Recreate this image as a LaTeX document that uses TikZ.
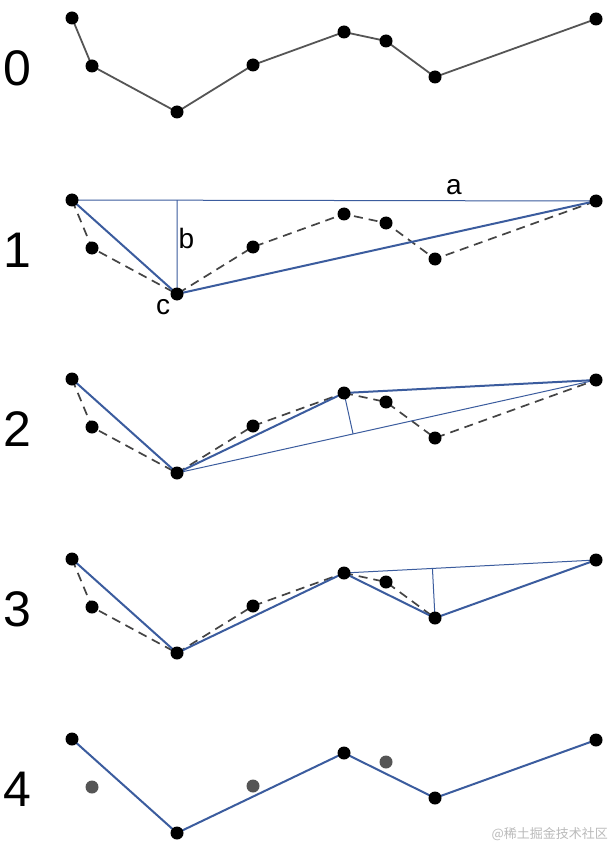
\documentclass[tikz,border=0pt]{standalone}
\usepackage{fontspec}
\setmainfont{Liberation Sans}
\newfontfamily\cjk{Noto Sans CJK SC}
\usetikzlibrary{calc}
\definecolor{lineblue}{HTML}{3B5C9E}
\definecolor{polygray}{HTML}{555555}
\definecolor{dashgray}{HTML}{444444}
\definecolor{markgray}{HTML}{BBBBBB}
\begin{document}
\begin{tikzpicture}[x=1pt,y=-1pt,
  dot/.style={circle,fill=black,inner sep=0pt,minimum size=13pt},
  fadedot/.style={circle,fill=polygray,inner sep=0pt,minimum size=13pt},
  poly/.style={draw=polygray,line width=1.8pt},
  dashpoly/.style={draw=dashgray,line width=1.7pt,dash pattern=on 9pt off 6pt},
  thickblue/.style={draw=lineblue,line width=2pt},
  thinblue/.style={draw=lineblue,line width=1pt},
  numlabel/.style={font=\fontsize{50}{50}\selectfont,inner sep=0pt},
  letlabel/.style={font=\fontsize{28}{28}\selectfont,inner sep=0pt}]
\useasboundingbox (0,0) rectangle (611,850);
\fill[white] (0,0) rectangle (611,850);
% coordinates of the polyline in every panel
\foreach \p/\b in {0/18,1/200,2/379,3/559,4/739}{
  \foreach \i/\x/\y in {1/72/0,2/92/48,3/177/94,4/253/47,5/344/14,6/386/23,7/435/59,8/596/1}{
    \coordinate (n\p-\i) at (\x,\b+\y);
  }
}
% panel labels
\node[numlabel] (l0) at (17,68) {0};
\node[numlabel] (l1) at (17,250) {1};
\node[numlabel] (l2) at (17,429) {2};
\node[numlabel] (l3) at (17,609) {3};
\node[numlabel] (l4) at (17,789) {4};
% panel 0
\draw[poly] (n0-1) -- (n0-2) -- (n0-3) -- (n0-4) -- (n0-5) -- (n0-6) -- (n0-7) -- (n0-8);
% panel 1
\draw[dashpoly] (n1-1) -- (n1-2) -- (n1-3) -- (n1-4) -- (n1-5) -- (n1-6) -- (n1-7) -- (n1-8);
\draw[thinblue] (n1-1) -- (n1-8);
\coordinate (f1) at ($(n1-1)!(n1-3)!(n1-8)$);
\draw[thinblue] (f1) -- (n1-3);
\draw[thickblue] (n1-1) -- (n1-3) -- (n1-8);
\node[letlabel] (la) at (454,187.5) {a};
\node[letlabel] (lb) at (186.5,238) {b};
\node[letlabel] (lc) at (163,307.5) {c};
% panel 2
\draw[dashpoly] (n2-1) -- (n2-2) -- (n2-3);
\draw[dashpoly] (n2-3) -- (n2-4) -- (n2-5);
\draw[dashpoly] (n2-5) -- (n2-6) -- (n2-7) -- (n2-8);
\draw[thinblue] (n2-3) -- (n2-8);
\coordinate (f2) at ($(n2-3)!(n2-5)!(n2-8)$);
\draw[thinblue] (n2-5) -- (f2);
\draw[thickblue] (n2-1) -- (n2-3) -- (n2-5) -- (n2-8);
% panel 3
\draw[dashpoly] (n3-1) -- (n3-2) -- (n3-3);
\draw[dashpoly] (n3-3) -- (n3-4) -- (n3-5);
\draw[dashpoly] (n3-5) -- (n3-6) -- (n3-7);
\draw[thinblue] (n3-5) -- (n3-8);
\coordinate (f3) at ($(n3-5)!(n3-7)!(n3-8)$);
\draw[thinblue] (n3-7) -- (f3);
\draw[thickblue] (n3-1) -- (n3-3) -- (n3-5) -- (n3-7) -- (n3-8);
% panel 4
\draw[thickblue] (n4-1) -- (n4-3) -- (n4-5) -- (n4-7) -- (n4-8);
% dots
\foreach \p in {0,1,2,3}{
  \foreach \i in {1,...,8}{
    \node[dot] (d\p-\i) at (n\p-\i) {};
  }
}
\foreach \i in {1,3,5,7,8}{
  \node[dot] (d4-\i) at (n4-\i) {};
}
\foreach \i in {2,4,6}{
  \node[fadedot] (d4-\i) at (n4-\i) {};
}
% watermark
\node[anchor=east,text=markgray,font=\cjk\fontsize{13}{13}\selectfont,inner sep=0pt] (wm) at (608,834) {@稀土掘金技术社区};
\end{tikzpicture}
\end{document}
